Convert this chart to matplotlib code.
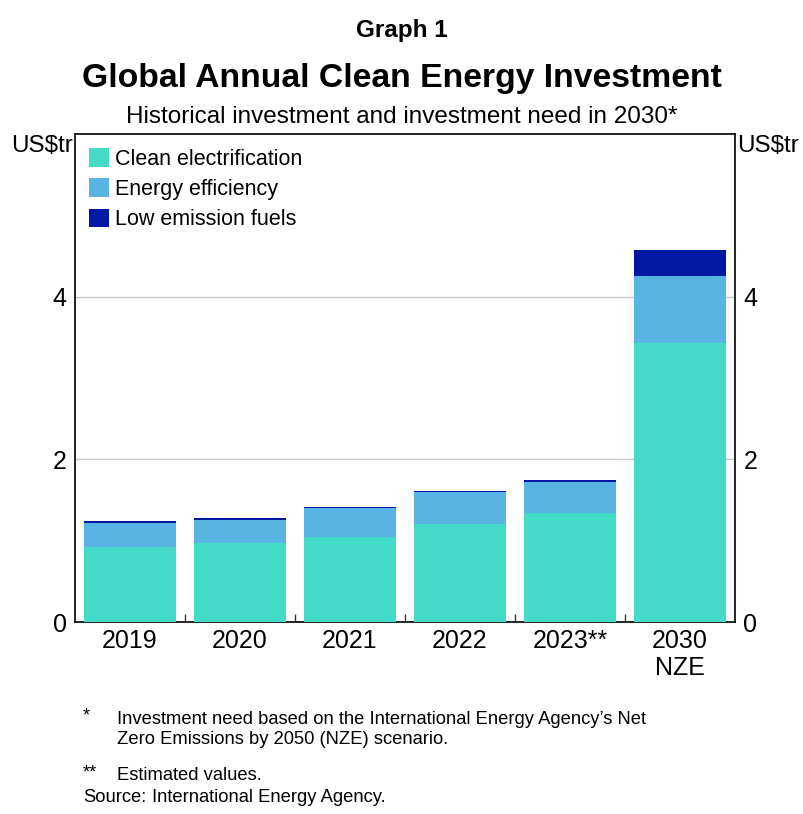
import numpy as np
import matplotlib
matplotlib.use('Agg')
import matplotlib.pyplot as plt
from matplotlib.ticker import FixedLocator

plt.rcParams['font.family'] = ['Liberation Sans', 'DejaVu Sans']

CATEGORIES = ['2019', '2020', '2021', '2022', '2023**', '2030\nNZE']
CLEAN_ELEC = [0.92, 0.97, 1.04, 1.20, 1.34, 3.43]
ENERGY_EFF = [0.30, 0.29, 0.36, 0.40, 0.38, 0.83]
LOW_EMISSION = [0.02, 0.015, 0.02, 0.01, 0.03, 0.31]
SERIES = ['Clean electrification', 'Energy efficiency', 'Low emission fuels']
COLORS = ['#43DBC7', '#5AB4E3', '#0019A5']
YTICKS = [0, 2, 4]

fig = plt.figure(figsize=(8.04, 8.14), dpi=100)
ax = fig.add_axes([75 / 804, 1 - 622 / 814, 660 / 804, 488 / 814])

x = np.arange(len(CATEGORIES))
bottom = np.zeros(len(CATEGORIES))
for vals, lab, col in zip([CLEAN_ELEC, ENERGY_EFF, LOW_EMISSION], SERIES, COLORS):
    ax.bar(x, vals, width=0.84, bottom=bottom, color=col, label=lab, zorder=3)
    bottom += np.array(vals)

ax.set_xlim(-0.5, len(CATEGORIES) - 0.5)
ax.set_ylim(0, 6)
ax.set_yticks(YTICKS)
ax.yaxis.grid(True, color='#c8c8c8', linewidth=1, zorder=0)
ax.tick_params(axis='y', which='major', length=0, labelsize=18, pad=6,
               left=True, right=True, labelleft=True, labelright=True)
ax.set_xticks(x)
ax.set_xticklabels(CATEGORIES, fontsize=18, linespacing=1.15)
ax.tick_params(axis='x', which='major', length=0, pad=5)
ax.xaxis.set_minor_locator(FixedLocator(x[:-1] + 0.5))
ax.tick_params(axis='x', which='minor', direction='in', length=6, width=1, color='#333333')
for sp in ax.spines.values():
    sp.set_linewidth(1.2)

leg = ax.legend(loc='upper left', frameon=False, fontsize=15.5, handlelength=0.95,
                handleheight=0.95, handletextpad=0.25, labelspacing=0.4,
                borderaxespad=0.4, borderpad=0.25)

fig.text(73 / 804, 1 - 146 / 814, 'US$tr', ha='right', va='center', fontsize=17.5)
fig.text(737 / 804, 1 - 146 / 814, 'US$tr', ha='left', va='center', fontsize=17.5)

fig.text(0.5, 1 - 30 / 814, 'Graph 1', ha='center', va='center', fontsize=17.5, fontweight='bold')
fig.text(0.5, 1 - 78 / 814, 'Global Annual Clean Energy Investment', ha='center', va='center',
         fontsize=24.3, fontweight='bold')
fig.text(0.5, 1 - 117 / 814, 'Historical investment and investment need in 2030*', ha='center',
         va='center', fontsize=17.5)

fn = dict(fontsize=13.2)
fig.text(83 / 804, 1 - 716 / 814, '*', ha='left', va='center', **fn)
fig.text(117 / 804, 1 - 719 / 814, 'Investment need based on the International Energy Agency\u2019s Net',
         ha='left', va='center', **fn)
fig.text(117 / 804, 1 - 740 / 814, 'Zero Emissions by 2050 (NZE) scenario.', ha='left', va='center', **fn)
fig.text(83 / 804, 1 - 773 / 814, '**', ha='left', va='center', **fn)
fig.text(117 / 804, 1 - 775 / 814, 'Estimated values.', ha='left', va='center', **fn)
fig.text(83 / 804, 1 - 798 / 814, 'Source:', ha='left', va='center', **fn)
fig.text(152 / 804, 1 - 798 / 814, 'International Energy Agency.', ha='left', va='center', **fn)

fig.savefig('out.png', dpi=100)
